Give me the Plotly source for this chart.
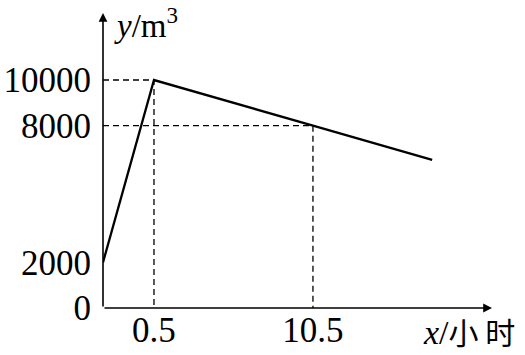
import plotly.graph_objects as go

# ---- data ----
x_hours = [0, 0.5, 10.5, 18]
y_volume = [2000, 10000, 8000, 6500]
x_tick_vals = [0.5, 10.5]
x_tick_text = ["0.5", "10.5"]
y_tick_vals = [0, 2000, 8000, 10000]
y_tick_text = ["0", "2000", "8000", "10000"]
guide_points_x = [0.5, 10.5]
guide_points_y = [10000, 8000]

# schematic (broken) x scale: first half hour is stretched
def xd(x):
    if x <= 0.5:
        return x * 2.0
    return 1.0 + (x - 0.5) * 0.3118

X_MAX = 7.63
Y_MAX = 12940

W, H = 525, 355
ML, MR, MT, MB = 103, 33, 13, 47
PW, PH = W - ML - MR, H - MT - MB

def px(xp):
    return (xp - ML) / PW

def py(yp):
    return (H - MB - yp) / PH

SERIF = "Liberation Serif"
FONT_SIZE = 35

fig = go.Figure()

# dashed guide lines
for gx, gy in zip(guide_points_x, guide_points_y):
    fig.add_trace(go.Scatter(
        x=[0, xd(gx), xd(gx)], y=[gy, gy, 0],
        mode="lines", line=dict(color="black", width=1.3, dash="6px,4px"),
        hoverinfo="skip", showlegend=False))

# main polyline
fig.add_trace(go.Scatter(
    x=[xd(v) for v in x_hours], y=y_volume,
    mode="lines", line=dict(color="black", width=2.3),
    showlegend=False))

fig.update_layout(
    width=W, height=H,
    margin=dict(l=ML, r=MR, t=MT, b=MB, autoexpand=False),
    paper_bgcolor="white", plot_bgcolor="white",
    showlegend=False,
    xaxis=dict(range=[0, X_MAX], showgrid=False, zeroline=False, showline=False,
               tickvals=[xd(v) for v in x_tick_vals], ticktext=x_tick_text,
               ticks="", ticklabelstandoff=-2,
               tickfont=dict(family=SERIF, size=FONT_SIZE, color="black")),
    yaxis=dict(range=[0, Y_MAX], showgrid=False, zeroline=False, showline=False,
               tickvals=y_tick_vals, ticktext=y_tick_text,
               ticks="", ticklabelstandoff=11,
               tickfont=dict(family=SERIF, size=FONT_SIZE, color="black")),
)

# axes with arrows
fig.add_annotation(x=X_MAX, y=0, ax=0, ay=0, xref="x", yref="y", axref="x", ayref="y",
                   showarrow=True, arrowhead=2, arrowsize=1.1, arrowwidth=1.6,
                   arrowcolor="black", text="", standoff=0)
fig.add_annotation(x=0, y=Y_MAX, ax=0, ay=0, xref="x", yref="y", axref="x", ayref="y",
                   showarrow=True, arrowhead=2, arrowsize=1.1, arrowwidth=1.6,
                   arrowcolor="black", text="", standoff=0)

# axis titles
fig.add_annotation(x=px(112), y=py(46), xref="paper", yref="paper",
                   xanchor="left", yanchor="bottom", showarrow=False,
                   text="<i>y</i>/m<sup>3</sup>",
                   font=dict(family=SERIF, size=33, color="black"))
fig.add_annotation(x=px(421), y=py(355), xref="paper", yref="paper",
                   xanchor="left", yanchor="bottom", showarrow=False,
                   text="<i>x</i>/<span style='font-family:Noto Sans CJK SC;font-size:30px'>小 时</span>",
                   font=dict(family=SERIF, size=34, color="black"))

fig.write_html("out.html")
